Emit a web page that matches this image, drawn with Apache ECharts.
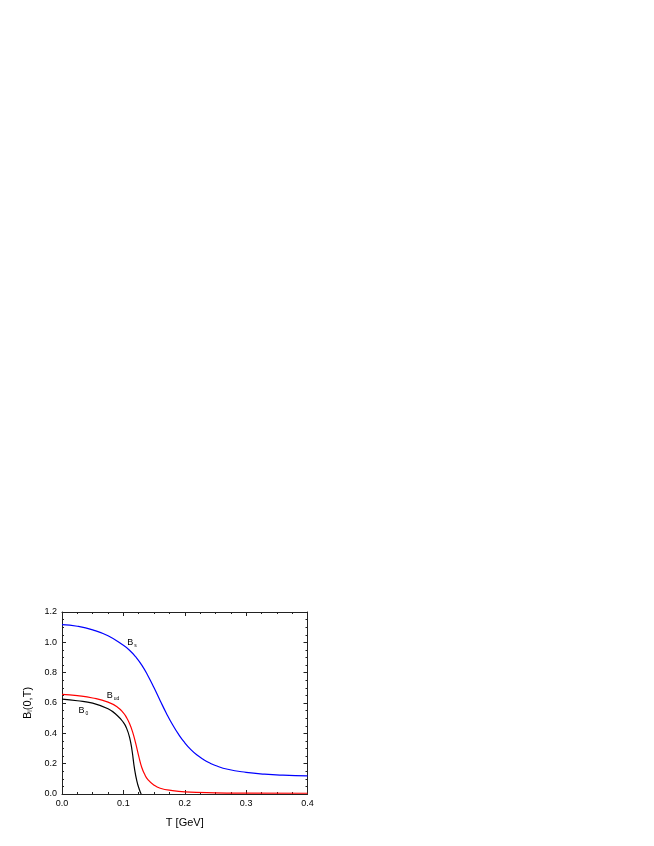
<!DOCTYPE html>
<html>
<head>
<meta charset="utf-8">
<script src="https://cdn.jsdelivr.net/npm/echarts@6/dist/echarts.min.js"></script>
<style>
  html, body { margin: 0; padding: 0; background: #fff; }
  #chart { width: 654px; height: 846px; }
</style>
</head>
<body>
<div id="chart"></div>
<script>
  // curves: [T (GeV), B(0,T)]
  var blueS = [
    [0, 1.117], [0.025, 1.106], [0.05, 1.082], [0.075, 1.043], [0.1, 0.98],
    [0.11, 0.948], [0.12, 0.905], [0.13, 0.85], [0.14, 0.78], [0.15, 0.70],
    [0.16, 0.615], [0.17, 0.533], [0.18, 0.458], [0.19, 0.393], [0.2, 0.338],
    [0.21, 0.293], [0.22, 0.257], [0.23, 0.229], [0.24, 0.206], [0.25, 0.188],
    [0.27, 0.163], [0.3, 0.143], [0.33, 0.131], [0.36, 0.124], [0.4, 0.119]
  ];
  var redUd = [
    [0, 0.657], [0.025, 0.648], [0.05, 0.633], [0.075, 0.606], [0.09, 0.574],
    [0.1, 0.535], [0.105, 0.505], [0.11, 0.465], [0.115, 0.41], [0.12, 0.335],
    [0.125, 0.25], [0.13, 0.175], [0.135, 0.127], [0.14, 0.095], [0.15, 0.058],
    [0.16, 0.038], [0.18, 0.022], [0.2, 0.014], [0.25, 0.008], [0.3, 0.006],
    [0.4, 0.005]
  ];
  var black0 = [
    [0, 0.625], [0.025, 0.615], [0.05, 0.599], [0.075, 0.562], [0.09, 0.518],
    [0.1, 0.472], [0.105, 0.436], [0.11, 0.375], [0.114, 0.29],
    [0.118, 0.17], [0.122, 0.085], [0.126, 0.03], [0.129, 0.0]
  ];
  // curve labels: [T, B, subscript]
  var labelS = [0.114, 0.997, 's'];
  var labelUd = [0.083, 0.647, 'ud'];
  var label0 = [0.035, 0.55, '0'];

  var xTicks = { min: 0, max: 0.4, interval: 0.1 };
  var yTicks = { min: 0, max: 1.2, interval: 0.2 };

  var font = 'Liberation Sans, Arial, sans-serif';
  var axisColor = '#222';

  function curveLabel(lab) {
    return {
      symbol: 'circle',
      symbolSize: 0,
      silent: true,
      data: [{
        coord: [lab[0], lab[1]],
        label: {
          show: true,
          position: 'inside',
          formatter: '{b|B}{s|' + lab[2] + '}',
          rich: {
            b: { fontFamily: font, fontSize: 9, color: '#000' },
            s: { fontFamily: font, fontSize: 5, color: '#000', padding: [6, 0, 0, 1] }
          }
        }
      }]
    };
  }

  function axisBase(show) {
    return {
      axisLine: { show: true, onZero: false, lineStyle: { color: axisColor, width: 1 } },
      axisTick: { show: true, inside: true, length: 4, lineStyle: { color: axisColor } },
      minorTick: { show: true, splitNumber: 4, length: 2, lineStyle: { color: axisColor } },
      splitLine: { show: false },
      axisLabel: { show: show }
    };
  }

  var chart = echarts.init(document.getElementById('chart'));
  chart.setOption({
    backgroundColor: '#fff',
    animation: false,
    grid: { left: 62, right: 346.5, top: 612, bottom: 52 },
    xAxis: [
      Object.assign(axisBase(true), {
        type: 'value', position: 'bottom',
        min: xTicks.min, max: xTicks.max, interval: xTicks.interval,
        name: 'T [GeV]', nameLocation: 'middle', nameGap: 23,
        nameTextStyle: { fontFamily: font, fontSize: 11, color: '#000' },
        axisLabel: {
          show: true, margin: 5, fontFamily: font, fontSize: 9, color: '#000',
          formatter: function (v) { return v.toFixed(1); }
        }
      }),
      Object.assign(axisBase(false), {
        type: 'value', position: 'top',
        min: xTicks.min, max: xTicks.max, interval: xTicks.interval
      })
    ],
    yAxis: [
      Object.assign(axisBase(true), {
        type: 'value', position: 'left',
        min: yTicks.min, max: yTicks.max, interval: yTicks.interval,
        name: '{b|B}{s|i}{b|(0,T)}', nameLocation: 'middle', nameGap: 28, nameRotate: 90,
        nameTextStyle: {
          rich: {
            b: { fontFamily: font, fontSize: 11, color: '#000' },
            s: { fontFamily: font, fontSize: 7, color: '#000', padding: [6, 0, 0, 0] }
          }
        },
        axisLabel: {
          show: true, margin: 5, fontFamily: font, fontSize: 9, color: '#000',
          formatter: function (v) { return v.toFixed(1); }
        }
      }),
      Object.assign(axisBase(false), {
        type: 'value', position: 'right',
        min: yTicks.min, max: yTicks.max, interval: yTicks.interval
      })
    ],
    series: [
      {
        name: 'Bs', type: 'line', data: blueS, showSymbol: false,
        smooth: 0.5,
        lineStyle: { color: '#0000ff', width: 1.2 },
        markPoint: curveLabel(labelS)
      },
      {
        name: 'Bud', type: 'line', data: redUd, showSymbol: false,
        smooth: 0.5,
        lineStyle: { color: '#ff0000', width: 1.2 },
        markPoint: curveLabel(labelUd)
      },
      {
        name: 'B0', type: 'line', data: black0, showSymbol: false,
        smooth: 0.5,
        lineStyle: { color: '#000000', width: 1.2 },
        markPoint: curveLabel(label0)
      }
    ]
  });
</script>
</body>
</html>
